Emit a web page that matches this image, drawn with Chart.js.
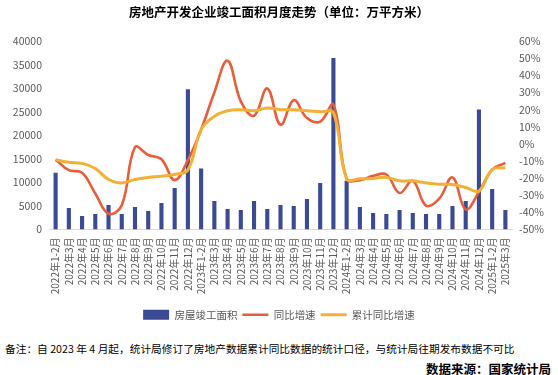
<!DOCTYPE html>
<html>
<head>
<meta charset="utf-8">
<script src="https://cdn.jsdelivr.net/npm/chart.js@4/dist/chart.umd.min.js"></script>
<style>
  body { margin: 0; background: #fff; }
  #wrap { position: relative; width: 558px; height: 375px; background: #fff; font-family: "Noto Sans CJK SC", "Noto Sans", sans-serif; }
  #chartBox { position: absolute; left: 0; top: 0; width: 558px; height: 330px; }
  .note { position: absolute; left: 5px; top: 341px; font-size: 10.7px; color: #000; white-space: nowrap; }
  .source { position: absolute; right: 7px; top: 359px; font-size: 12.5px; font-weight: bold; color: #000; white-space: nowrap; }
</style>
</head>
<body>
<div id="wrap">
  <div id="chartBox"><canvas id="myChart" width="558" height="330"></canvas></div>
  <div class="note">备注：自 2023 年 4 月起，统计局修订了房地产数据累计同比数据的统计口径，与统计局往期发布数据不可比</div>
  <div class="source">数据来源：国家统计局</div>
</div>
<script>
"use strict";

const months = [
  "2022年1-2月", "2022年3月", "2022年4月", "2022年5月", "2022年6月", "2022年7月",
  "2022年8月", "2022年9月", "2022年10月", "2022年11月", "2022年12月",
  "2023年1-2月", "2023年3月", "2023年4月", "2023年5月", "2023年6月", "2023年7月",
  "2023年8月", "2023年9月", "2023年10月", "2023年11月", "2023年12月",
  "2024年1-2月", "2024年3月", "2024年4月", "2024年5月", "2024年6月", "2024年7月",
  "2024年8月", "2024年9月", "2024年10月", "2024年11月", "2024年12月",
  "2025年1-2月", "2025年3月"
];

// 房屋竣工面积 (万平方米)
const completedArea = [
  12030, 4550, 2850, 3270, 5200, 3270, 4770, 3910, 5620, 8830, 29750,
  12950, 6050, 4340, 4130, 6050, 4340, 5200, 4980, 6480, 9890, 36370,
  10320, 4770, 3490, 3270, 4130, 3490, 3270, 3270, 4980, 6050, 25480,
  8610, 4130
];

// 同比增速 (%)
const yoyGrowth = [
  -9.3, -15.4, -16.9, -29, -40.8, -35.9, -2, -6.5, -9, -21.2, -9.5,
  8.3, 30, 48.5, 24.8, 16.4, 32.3, 11.1, 25.5, 15, 13, 22.8,
  -20.4, -21.2, -18.7, -17.9, -28.7, -21.6, -36.1, -32, -19.6, -38.3, -28.1,
  -15, -11.1
];

// 累计同比增速 (%)
const cumGrowth = [
  -9.3, -10.8, -11.4, -14.4, -20.8, -22.8, -20.8, -19.6, -18.9, -17.9, -15.2,
  8.3, 16, 19.3, 19.9, 19.3, 20.9, 19.9, 19.9, 19.3, 18.7, 18.2,
  -20.4, -20.4, -20.2, -19.6, -21.6, -21.6, -22.8, -23.6, -23.8, -25.5, -27.5,
  -15, -14
];

const tickColor = "#595959";
Chart.defaults.font.family = '"Noto Sans CJK SC", "Noto Sans", sans-serif';

const data = {
  labels: months,
  datasets: [
    {
      type: "bar",
      label: "房屋竣工面积",
      data: completedArea,
      backgroundColor: "#3A4A94",
      borderWidth: 0,
      barPercentage: 0.31,
      categoryPercentage: 1,
      pointStyle: "rect",
      yAxisID: "y",
      order: 3,
    },
    {
      type: "line",
      label: "同比增速",
      data: yoyGrowth,
      borderColor: "#E85D3A",
      backgroundColor: "#E85D3A",
      borderWidth: 2.6,
      pointRadius: 0,
      pointStyle: "line",
      tension: 0.4,
      yAxisID: "y1",
      order: 2,
    },
    {
      type: "line",
      label: "累计同比增速",
      data: cumGrowth,
      borderColor: "#F2B134",
      backgroundColor: "#F2B134",
      borderWidth: 3,
      pointRadius: 0,
      pointStyle: "line",
      tension: 0.4,
      yAxisID: "y1",
      order: 1,
    },
  ],
};

const config = {
  data: data,
  options: {
    responsive: false,
    animation: false,
    layout: { padding: 0 },
    plugins: {
      title: {
        display: true,
        text: "房地产开发企业竣工面积月度走势（单位：万平方米）",
        color: "#000",
        font: { size: 12.5, weight: "bold" },
        padding: { top: 5, bottom: 21 },
      },
      legend: {
        position: "bottom",
        labels: {
          color: tickColor,
          font: { size: 10.5 },
          usePointStyle: true,
          pointStyleWidth: 26,
          boxHeight: 10,
          padding: 5,
          sort: (a, b) => a.datasetIndex - b.datasetIndex,
        },
      },
      tooltip: { enabled: false },
    },
    scales: {
      x: {
        grid: { display: false, drawTicks: false },
        border: { display: true, color: "#D9D9D9" },
        ticks: {
          color: tickColor,
          font: { size: 10 },
          maxRotation: 90,
          minRotation: 90,
          autoSkip: false,
          padding: 8,
        },
        afterFit: function (scale) {
          scale.height = 75;
        },
      },
      y: {
        position: "left",
        min: 0,
        max: 40000,
        grid: { display: false, drawTicks: false },
        border: { display: false },
        ticks: {
          stepSize: 5000,
          color: tickColor,
          font: { size: 10.5 },
          padding: 7,
          callback: (v) => String(v),
        },
        afterFit: function (scale) {
          scale.width = 49;
        },
      },
      y1: {
        position: "right",
        min: -50,
        max: 60,
        grid: { display: false, drawTicks: false },
        border: { display: false },
        ticks: {
          stepSize: 10,
          color: tickColor,
          font: { size: 10.5 },
          padding: 7,
          callback: (v) => v + "%",
        },
        afterFit: function (scale) {
          scale.width = 46;
        },
      },
    },
  },
};

const canvasChart = document.getElementById("myChart");
new Chart(canvasChart, config);
</script>
</body>
</html>
